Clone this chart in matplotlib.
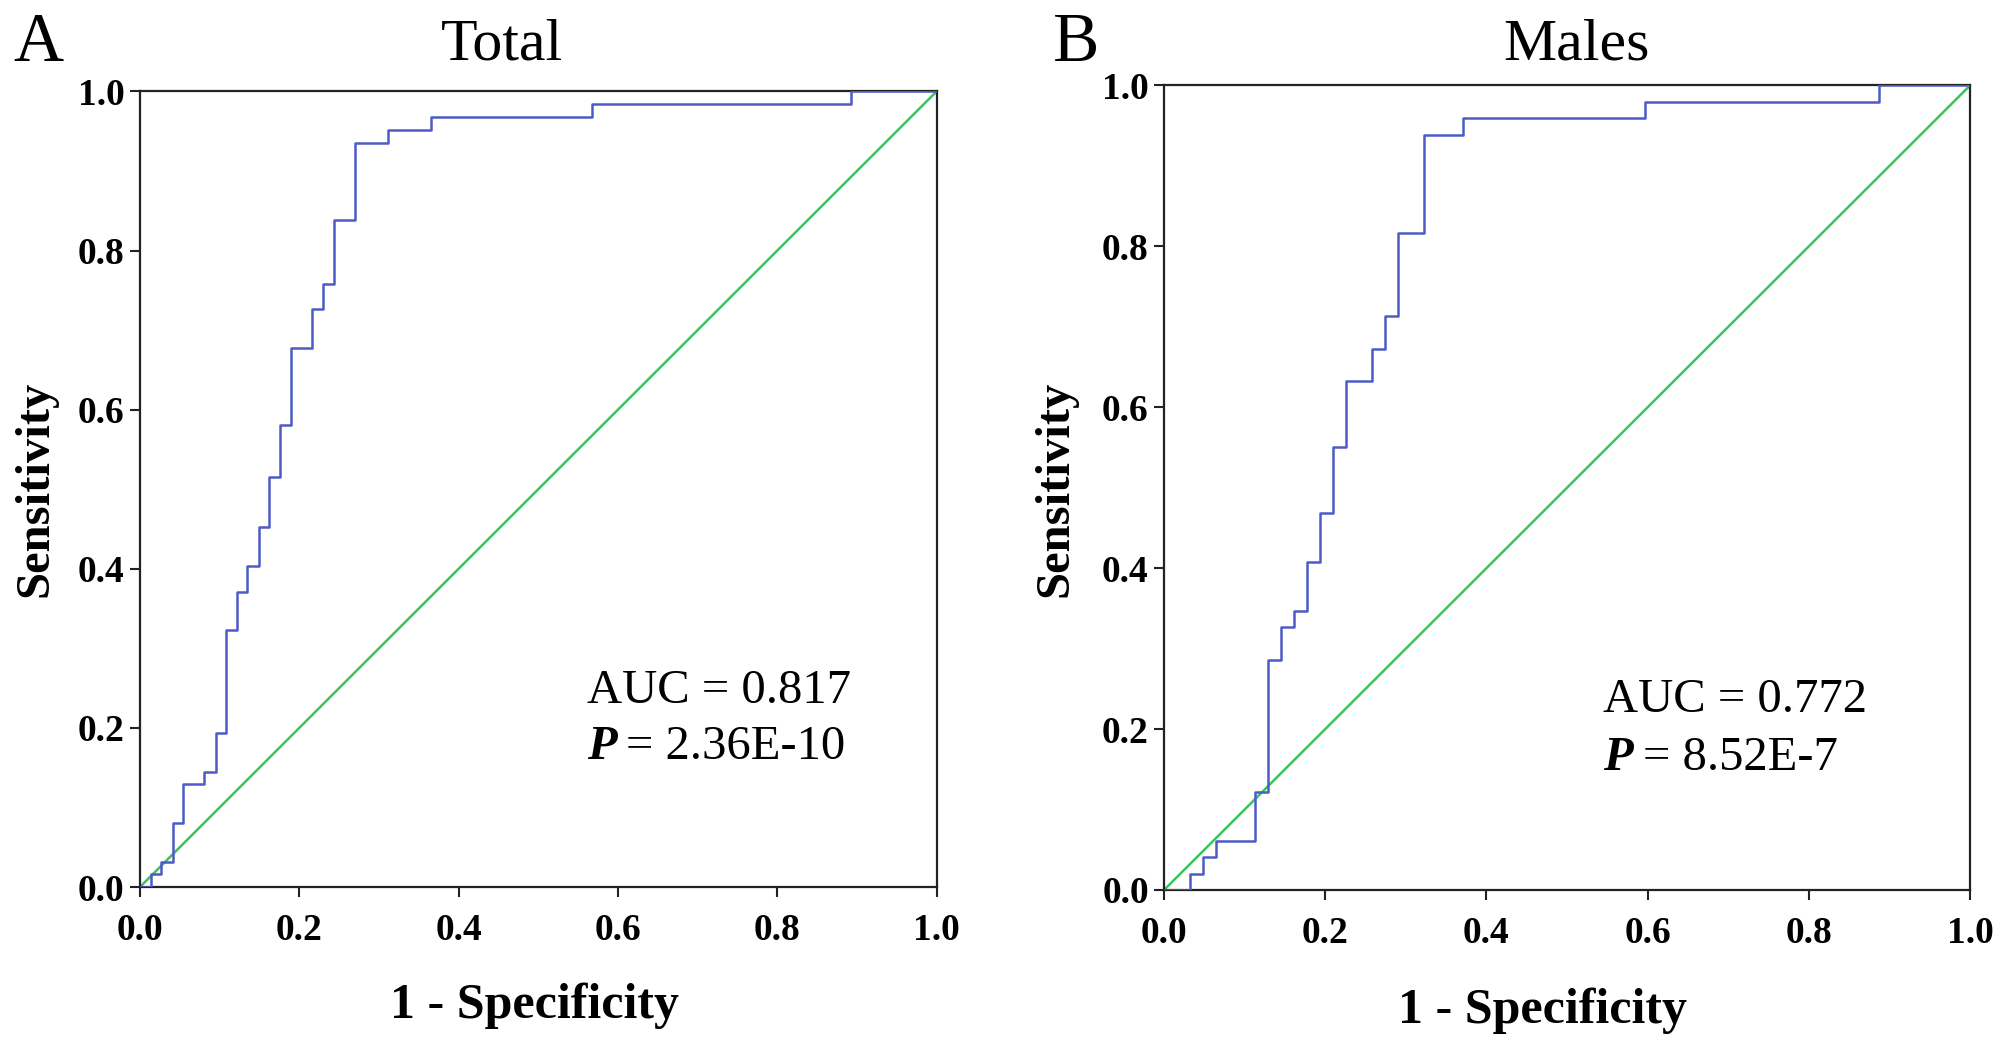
import matplotlib
matplotlib.use("Agg")
import matplotlib.pyplot as plt

plt.rcParams['font.family'] = ['Liberation Serif', 'DejaVu Serif']

# ROC corner points
total_fpr = [0, 0.0135, 0.0135, 0.027, 0.027, 0.041, 0.041, 0.054, 0.054, 0.081, 0.081,
             0.095, 0.095, 0.108, 0.108, 0.122, 0.122, 0.135, 0.135, 0.149, 0.149,
             0.162, 0.162, 0.176, 0.176, 0.189, 0.189, 0.216, 0.216, 0.230, 0.230,
             0.243, 0.243, 0.270, 0.270, 0.311, 0.311, 0.365, 0.365, 0.568, 0.568,
             0.892, 0.892, 1.0]
total_tpr = [0, 0, 0.016, 0.016, 0.032, 0.032, 0.081, 0.081, 0.129, 0.129, 0.145,
             0.145, 0.194, 0.194, 0.323, 0.323, 0.371, 0.371, 0.403, 0.403, 0.452,
             0.452, 0.516, 0.516, 0.581, 0.581, 0.677, 0.677, 0.726, 0.726, 0.758,
             0.758, 0.839, 0.839, 0.935, 0.935, 0.952, 0.952, 0.968, 0.968, 0.984,
             0.984, 1.0, 1.0]

males_fpr = [0, 0.032, 0.032, 0.048, 0.048, 0.065, 0.065, 0.113, 0.113, 0.129, 0.129,
             0.145, 0.145, 0.161, 0.161, 0.177, 0.177, 0.194, 0.194, 0.210, 0.210,
             0.226, 0.226, 0.258, 0.258, 0.274, 0.274, 0.290, 0.290, 0.323, 0.323,
             0.371, 0.371, 0.597, 0.597, 0.887, 0.887, 1.0]
males_tpr = [0, 0, 0.020, 0.020, 0.041, 0.041, 0.061, 0.061, 0.122, 0.122, 0.286,
             0.286, 0.327, 0.327, 0.347, 0.347, 0.408, 0.408, 0.469, 0.469, 0.551,
             0.551, 0.633, 0.633, 0.673, 0.673, 0.714, 0.714, 0.816, 0.816, 0.939,
             0.939, 0.959, 0.959, 0.980, 0.980, 1.0, 1.0]

titles = ["Total", "Males"]
letters = ["A", "B"]
auc_text = ["AUC = 0.817", "AUC = 0.772"]
p_values = ["2.36E-10", "8.52E-7"]
ticks = [0.0, 0.2, 0.4, 0.6, 0.8, 1.0]
tick_labels = ["0.0", "0.2", "0.4", "0.6", "0.8", "1.0"]

fig = plt.figure(figsize=(20.08, 10.6), dpi=100)
ax1 = fig.add_axes([0.0697, 0.1632, 0.3967, 0.7505])
ax2 = fig.add_axes([0.5797, 0.1604, 0.4014, 0.7590])

curves = [(total_fpr, total_tpr), (males_fpr, males_tpr)]
text_pos = [(0.561, 0.246, 0.176), (0.545, 0.236, 0.164)]

for i, ax in enumerate([ax1, ax2]):
    fpr, tpr = curves[i]
    ax.plot([0, 1], [0, 1], color='#3cc35e', lw=1.8, zorder=2)
    ax.plot(fpr, tpr, color='#4d5bc6', lw=1.8, zorder=3)
    ax.set_xlim(0, 1)
    ax.set_ylim(0, 1)
    ax.set_xticks(ticks)
    ax.set_yticks(ticks)
    ax.set_xticklabels(tick_labels)
    ax.set_yticklabels(tick_labels)
    ax.tick_params(direction='out', length=7, width=1.5, labelsize=27, color='#222222')
    ax.tick_params(axis='x', pad=12)
    ax.tick_params(axis='y', pad=4)
    for lab in ax.get_xticklabels() + ax.get_yticklabels():
        lab.set_fontweight('bold')
    for sp in ax.spines.values():
        sp.set_linewidth(1.6)
        sp.set_color('#222222')
    tx, ty1, ty2 = text_pos[i]
    ax.text(tx, ty1, auc_text[i], fontsize=35, ha='left', va='center')
    ptxt = ax.text(tx, ty2, "P", fontsize=35, ha='left', va='center',
                   fontweight='bold', fontstyle='italic')
    ax.annotate("= " + p_values[i], xy=(1, 0.5), xycoords=ptxt, xytext=(7, 0),
                textcoords='offset points', fontsize=35, ha='left', va='center')

# titles, panel letters and axis labels
fig.text(0.250, 0.957, titles[0], fontsize=43, ha='center', va='center')
fig.text(0.785, 0.957, titles[1], fontsize=43, ha='center', va='center')
fig.text(0.019, 0.958, letters[0], fontsize=50, ha='center', va='center')
fig.text(0.536, 0.958, letters[1], fontsize=50, ha='center', va='center')
fig.text(0.0175, 0.539, "Sensitivity", fontsize=35, fontweight='bold',
         rotation=90, ha='center', va='center')
fig.text(0.5255, 0.539, "Sensitivity", fontsize=35, fontweight='bold',
         rotation=90, ha='center', va='center')
fig.text(0.266, 0.051, "1 - Specificity", fontsize=36, fontweight='bold',
         ha='center', va='center')
fig.text(0.768, 0.046, "1 - Specificity", fontsize=36, fontweight='bold',
         ha='center', va='center')

fig.savefig("out.png", dpi=100)
